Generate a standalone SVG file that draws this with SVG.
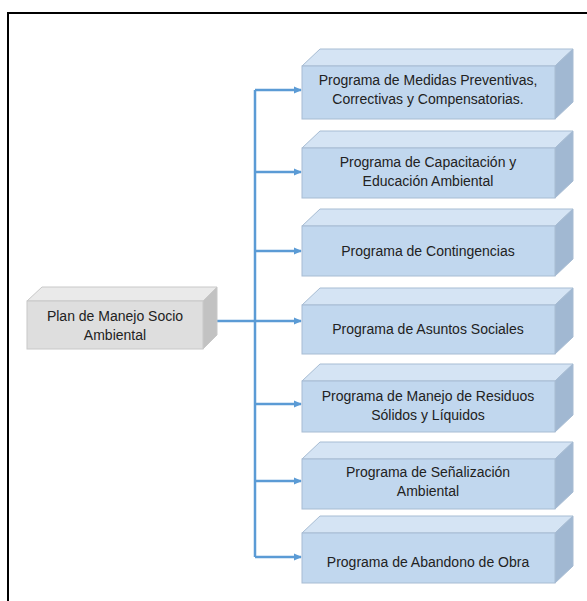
<svg xmlns="http://www.w3.org/2000/svg" width="587" height="601" viewBox="0 0 587 601">
<style>
.front{fill:#C1D7EE;stroke:#A7BCD3;stroke-width:1}
.top{fill:#D5E4F4;stroke:#A7BCD3;stroke-width:1}
.side{fill:#A1B8D2;stroke:#A7BCD3;stroke-width:1}
.gfront{fill:#DEDEDE;stroke:#C8C8C8;stroke-width:1}
.gtop{fill:#EAEAEA;stroke:#C8C8C8;stroke-width:1}
.gside{fill:#C2C2C2;stroke:#C8C8C8;stroke-width:1}
text{font-family:"Liberation Sans",Arial,sans-serif;font-size:14px;fill:#222;text-anchor:middle}
.conn{stroke:#5B9BD5;stroke-width:2.5;fill:none}
</style>
<defs>
<marker id="arr" markerWidth="8" markerHeight="8" refX="7" refY="4" orient="auto" markerUnits="userSpaceOnUse">
<path d="M0,0.5 L8,4 L0,7.5 Z" fill="#5B9BD5"/>
</marker>
</defs>
<rect width="587" height="601" fill="#fff"/>
<path d="M8,601 V13 H587" fill="none" stroke="#000" stroke-width="2"/>

<g id="connectors">
<path class="conn" d="M217,321 H255"/>
<path class="conn" d="M255,90 V557"/>
<path class="conn" d="M255,90 H301" marker-end="url(#arr)"/>
<path class="conn" d="M255,172 H301" marker-end="url(#arr)"/>
<path class="conn" d="M255,251 H301" marker-end="url(#arr)"/>
<path class="conn" d="M255,321 H301" marker-end="url(#arr)"/>
<path class="conn" d="M255,404 H301" marker-end="url(#arr)"/>
<path class="conn" d="M255,481 H301" marker-end="url(#arr)"/>
<path class="conn" d="M255,557 H301" marker-end="url(#arr)"/>
</g>

<g id="plan">
<polygon class="gtop" points="27,301 42,287 217,287 203,301"/>
<polygon class="gside" points="203,301 217,287 217,335 203,349"/>
<rect class="gfront" x="27" y="301" width="176" height="48"/>
<text x="115" y="321">Plan de Manejo Socio</text>
<text x="115" y="340">Ambiental</text>
</g>

<g id="p1">
<polygon class="top" points="302,66 320,49 573,49 555,66"/>
<polygon class="side" points="555,66 573,49 573,102 555,119"/>
<rect class="front" x="302" y="66" width="253" height="53"/>
<text x="428" y="85">Programa de Medidas Preventivas,</text>
<text x="428" y="104">Correctivas y Compensatorias.</text>
</g>

<g id="p2">
<polygon class="top" points="302,148 320,131 573,131 555,148"/>
<polygon class="side" points="555,148 573,131 573,181 555,198"/>
<rect class="front" x="302" y="148" width="253" height="50"/>
<text x="428" y="167">Programa de Capacitación y</text>
<text x="428" y="186">Educación Ambiental</text>
</g>

<g id="p3">
<polygon class="top" points="302,226 320,209 573,209 555,226"/>
<polygon class="side" points="555,226 573,209 573,259 555,276"/>
<rect class="front" x="302" y="226" width="253" height="50"/>
<text x="428" y="256">Programa de Contingencias</text>
</g>

<g id="p4">
<polygon class="top" points="302,305 320,288 573,288 555,305"/>
<polygon class="side" points="555,305 573,288 573,337 555,354"/>
<rect class="front" x="302" y="305" width="253" height="49"/>
<text x="428" y="334">Programa de Asuntos Sociales</text>
</g>

<g id="p5">
<polygon class="top" points="302,381 320,364 573,364 555,381"/>
<polygon class="side" points="555,381 573,364 573,415 555,432"/>
<rect class="front" x="302" y="381" width="253" height="51"/>
<text x="428" y="401">Programa de Manejo de Residuos</text>
<text x="428" y="420">Sólidos y Líquidos</text>
</g>

<g id="p6">
<polygon class="top" points="302,459 320,442 573,442 555,459"/>
<polygon class="side" points="555,459 573,442 573,492 555,509"/>
<rect class="front" x="302" y="459" width="253" height="50"/>
<text x="428" y="477">Programa de Señalización</text>
<text x="428" y="496">Ambiental</text>
</g>

<g id="p7">
<polygon class="top" points="302,533 320,516 573,516 555,533"/>
<polygon class="side" points="555,533 573,516 573,566 555,583"/>
<rect class="front" x="302" y="533" width="253" height="50"/>
<text x="428" y="567">Programa de Abandono de Obra</text>
</g>
</svg>
